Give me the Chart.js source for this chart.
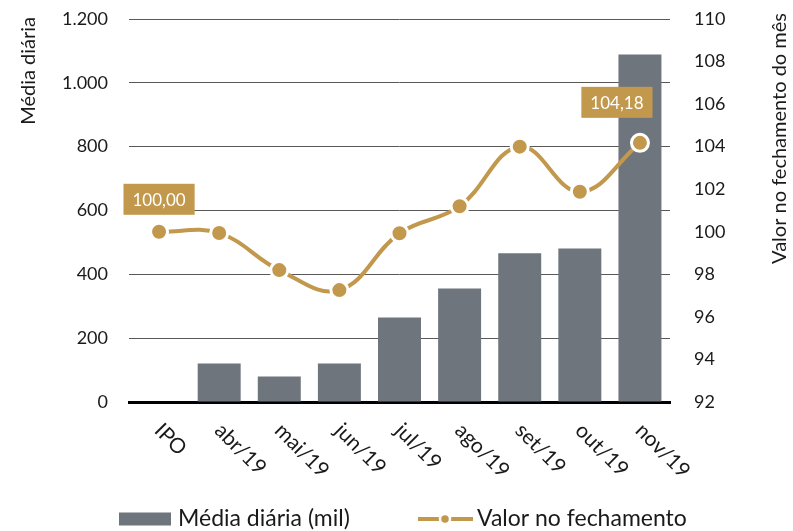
<!DOCTYPE html>
<html>
<head>
<meta charset="utf-8">
<script src="https://cdn.jsdelivr.net/npm/chart.js@4"></script>
<style>
  html, body { margin: 0; padding: 0; background: #fff; }
  #wrap { width: 793px; height: 531px; }
</style>
</head>
<body>
<div id="wrap"><canvas id="chart" width="793" height="531"></canvas></div>
<script>
// Chart data
const categories = ['IPO', 'abr/19', 'mai/19', 'jun/19', 'jul/19', 'ago/19', 'set/19', 'out/19', 'nov/19'];
const dailyAverage = [0, 121, 80, 121, 265, 356, 466, 481, 1089];
const closingValue = [100.00, 99.94, 98.20, 97.26, 99.93, 101.20, 104.00, 101.88, 104.18];
const labelledPoints = [0, 8];

const GOLD = '#c1984c';
const GREY = '#6e757c';
const TEXT = '#1a1a1a';
const FONT = 'Lato, "Open Sans", sans-serif';

/**
 * Format number with Portuguese separators
 */
function formatThousands(value) {
  return String(value).replace(/\B(?=(\d{3})+(?!\d))/g, '.');
}

function formatDecimal(value) {
  return value.toFixed(2).replace('.', ',');
}

// Fix axis size and drop the extra label padding so the plot area lines up
function fixWidth(width) {
  return scale => {
    scale.width = width;
    scale.paddingTop = 0;
    scale.paddingBottom = 0;
  };
}

// Draws rotated x labels, axis titles, value boxes and legend
const decorations = {
  id: 'decorations',
  afterDatasetsDraw(chart) {
    const ctx = chart.ctx;
    const xScale = chart.scales.x;
    const area = chart.chartArea;
    ctx.save();
    ctx.fillStyle = TEXT;

    // Rotated category labels
    ctx.font = '21px ' + FONT;
    categories.forEach((label, i) => {
      const x = xScale.getPixelForValue(i);
      ctx.save();
      ctx.translate(x - 1, area.bottom + 25);
      ctx.rotate(Math.PI / 4);
      ctx.textAlign = 'left';
      ctx.textBaseline = 'middle';
      ctx.fillText(label, 0, 0);
      ctx.restore();
    });

    // Axis titles
    ctx.font = '20px ' + FONT;
    ctx.save();
    ctx.translate(29, 17);
    ctx.rotate(-Math.PI / 2);
    ctx.textAlign = 'right';
    ctx.textBaseline = 'middle';
    ctx.fillText('Média diária', 0, 0);
    ctx.restore();

    ctx.save();
    ctx.translate(780, 13);
    ctx.rotate(-Math.PI / 2);
    ctx.textAlign = 'right';
    ctx.textBaseline = 'middle';
    ctx.fillText('Valor no fechamento do mês', 0, 0);
    ctx.restore();

    // Value boxes on first and last point
    ctx.font = '17px ' + FONT;
    const meta = chart.getDatasetMeta(0);
    labelledPoints.forEach(i => {
      const pt = meta.data[i];
      const text = formatDecimal(closingValue[i]);
      const w = ctx.measureText(text).width + 18;
      const h = 31;
      const last = i === categories.length - 1;
      const cx = last ? pt.x - 23 : pt.x;
      const bottom = last ? pt.y - 25 : pt.y - 17;
      ctx.fillStyle = GOLD;
      ctx.fillRect(cx - w / 2, bottom - h, w, h);
      ctx.fillStyle = '#fff';
      ctx.textAlign = 'center';
      ctx.textBaseline = 'middle';
      ctx.fillText(text, cx, bottom - h / 2 + 1);
    });

    // Legend
    ctx.font = '23px ' + FONT;
    const ly = 519;
    ctx.fillStyle = GREY;
    ctx.fillRect(119, ly - 6.5, 52, 13);
    ctx.fillStyle = TEXT;
    ctx.textAlign = 'left';
    ctx.textBaseline = 'middle';
    ctx.fillText(chart.data.datasets[1].label, 178, ly);

    ctx.strokeStyle = GOLD;
    ctx.lineWidth = 4;
    ctx.beginPath();
    ctx.moveTo(418, ly);
    ctx.lineTo(473, ly);
    ctx.stroke();
    ctx.beginPath();
    ctx.arc(445, ly, 5, 0, Math.PI * 2);
    ctx.fillStyle = GOLD;
    ctx.fill();
    ctx.strokeStyle = '#fff';
    ctx.lineWidth = 2.5;
    ctx.stroke();
    ctx.fillStyle = TEXT;
    ctx.fillText(chart.data.datasets[0].label, 477, ly);

    ctx.restore();
  }
};

const ctx = document.getElementById('chart').getContext('2d');
new Chart(ctx, {
  type: 'bar',
  data: {
    labels: categories,
    datasets: [
      {
        type: 'line',
        label: 'Valor no fechamento',
        data: closingValue,
        yAxisID: 'y2',
        order: 0,
        borderColor: GOLD,
        borderWidth: 4,
        tension: 0.4,
        pointRadius: 8.5,
        pointBorderWidth: 3,
        pointBackgroundColor: GOLD,
        pointBorderColor: '#fff'
      },
      {
        type: 'bar',
        label: 'Média diária (mil)',
        data: dailyAverage,
        yAxisID: 'y',
        order: 1,
        backgroundColor: GREY,
        categoryPercentage: 1,
        barPercentage: 0.715
      }
    ]
  },
  options: {
    responsive: false,
    devicePixelRatio: 1,
    animation: false,
    layout: { padding: { left: 0, right: 0, top: 19, bottom: 0 } },
    plugins: {
      legend: { display: false },
      tooltip: { enabled: false }
    },
    scales: {
      x: {
        grid: { display: false, drawTicks: false },
        border: { display: true, color: '#000', width: 3 },
        ticks: { display: false },
        afterFit: scale => { scale.height = 129; }
      },
      y: {
        position: 'left',
        min: 0,
        max: 1200,
        ticks: {
          stepSize: 200,
          padding: 21,
          color: TEXT,
          font: { family: FONT, size: 18 },
          callback: value => formatThousands(value)
        },
        grid: { color: '#595959', lineWidth: 1, drawTicks: false },
        border: { display: false },
        afterFit: fixWidth(129)
      },
      y2: {
        position: 'right',
        min: 92,
        max: 110,
        ticks: {
          stepSize: 2,
          padding: 24,
          color: TEXT,
          font: { family: FONT, size: 18 }
        },
        grid: { display: false, drawTicks: false },
        border: { display: false },
        afterFit: fixWidth(123)
      }
    }
  },
  plugins: [decorations]
});
</script>
</body>
</html>
